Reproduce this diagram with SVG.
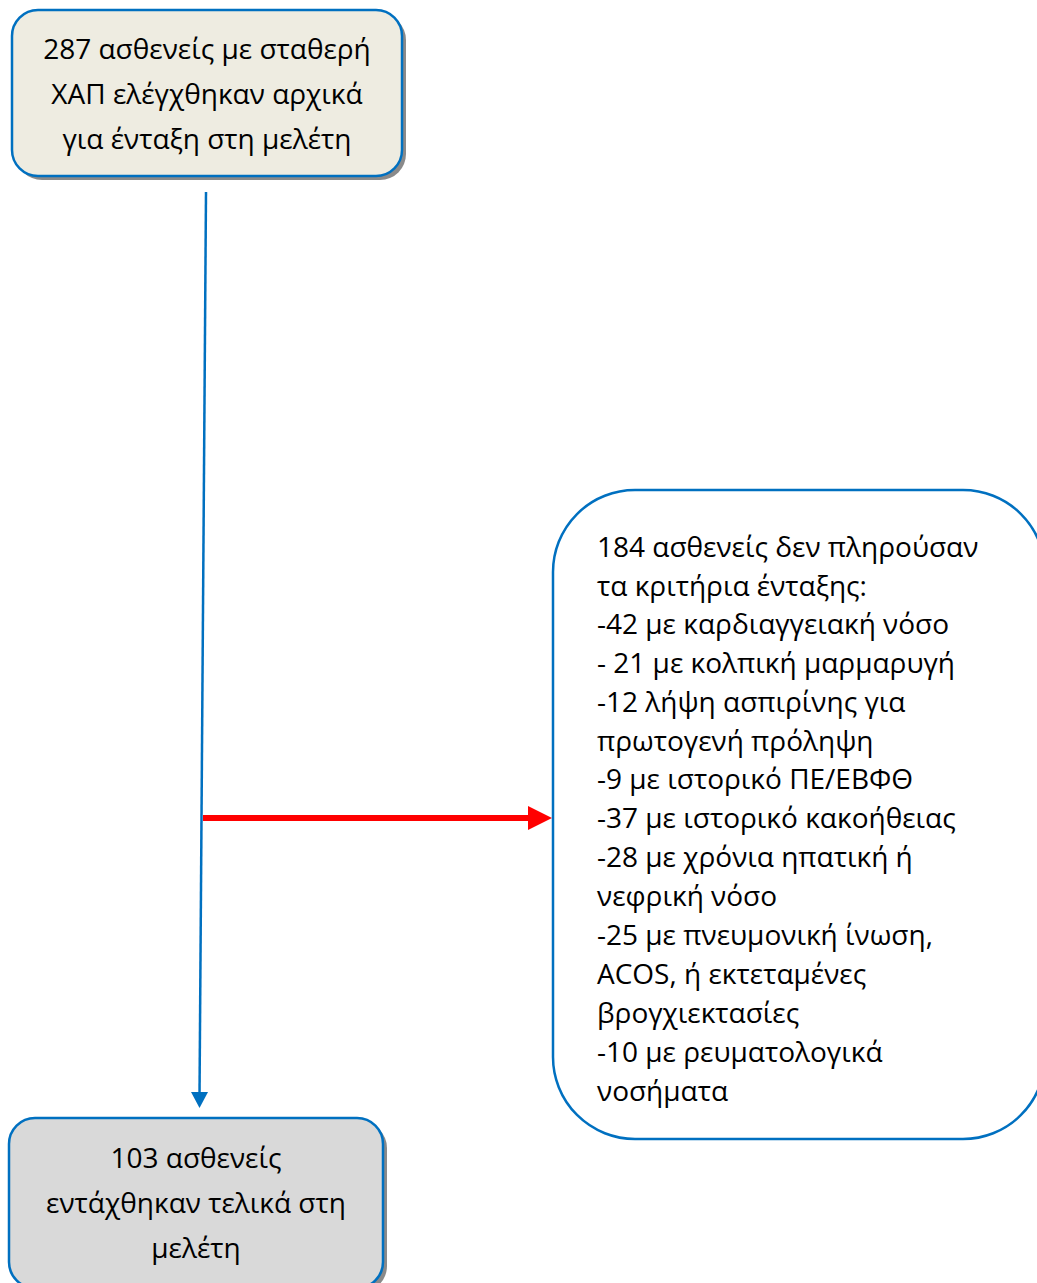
<svg xmlns="http://www.w3.org/2000/svg" width="1037" height="1283" viewBox="0 0 1037 1283">
<style>
text{font-family:"Open Sans","Noto Sans","DejaVu Sans",sans-serif;font-size:28px;fill:#000}
.c{text-anchor:middle}
.box{stroke:#0070C0;stroke-width:2.5}
.sh{fill:#6d6d6d;opacity:0.8}
</style>
<g id="connectors">
<line x1="206" y1="192" x2="199.5" y2="1097" stroke="#0070C0" stroke-width="2.5"/>
<path d="M191,1092 L208,1092 L199.5,1108 z" fill="#0070C0"/>
<line x1="203" y1="818" x2="530" y2="818" stroke="#FF0000" stroke-width="6"/>
<path d="M528,806 L552,818 L528,830 z" fill="#FF0000"/>
</g>
<g id="node-start">
<rect x="16" y="14" width="390" height="166" rx="26" class="sh"/>
<rect x="12" y="10" width="390" height="166" rx="26" fill="#EEECE1" class="box"/>
<text class="c" x="207" y="59">287 ασθενείς με σταθερή</text>
<text class="c" x="207" y="104">ΧΑΠ ελέγχθηκαν αρχικά</text>
<text class="c" x="207" y="149">για ένταξη στη μελέτη</text>
</g>
<g id="node-excluded">
<rect x="553" y="490" width="492" height="649" rx="82" fill="#FFFFFF" class="box" stroke-width="3"/>
<text x="597" y="557">184 ασθενείς δεν πληρούσαν</text>
<text x="597" y="596">τα κριτήρια ένταξης:</text>
<text x="597" y="634">-42 με καρδιαγγειακή νόσο</text>
<text x="597" y="673">- 21 με κολπική μαρμαρυγή</text>
<text x="597" y="712">-12 λήψη ασπιρίνης για</text>
<text x="597" y="751">πρωτογενή πρόληψη</text>
<text x="597" y="789">-9 με ιστορικό ΠΕ/ΕΒΦΘ</text>
<text x="597" y="828">-37 με ιστορικό κακοήθειας</text>
<text x="597" y="867">-28 με χρόνια ηπατική ή</text>
<text x="597" y="906">νεφρική νόσο</text>
<text x="597" y="945">-25 με πνευμονική ίνωση,</text>
<text x="597" y="984">ACOS, ή εκτεταμένες</text>
<text x="597" y="1023">βρογχιεκτασίες</text>
<text x="597" y="1062">-10 με ρευματολογικά</text>
<text x="597" y="1101">νοσήματα</text>
</g>
<g id="node-included">
<rect x="13" y="1122" width="374" height="170" rx="26" class="sh"/>
<rect x="9" y="1118" width="374" height="170" rx="26" fill="#D9D9D9" class="box"/>
<text class="c" x="196" y="1168">103 ασθενείς</text>
<text class="c" x="196" y="1213">εντάχθηκαν τελικά στη</text>
<text class="c" x="196" y="1258">μελέτη</text>
</g>
</svg>
